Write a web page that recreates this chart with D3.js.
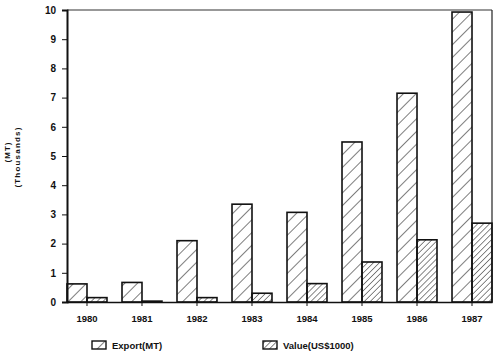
<!DOCTYPE html>
<html><head><meta charset="utf-8">
<script src="https://cdn.jsdelivr.net/npm/d3@7"></script>
<style>body{margin:0;background:#fff}svg{display:block}text{font-family:"Liberation Sans",Arial,sans-serif;font-weight:bold;fill:#111}</style>
</head><body>
<svg id="c" width="500" height="360"></svg>
<script>
const years = ["1980","1981","1982","1983","1984","1985","1986","1987"];
const exportMT = [0.62, 0.67, 2.1, 3.35, 3.07, 5.48, 7.15, 9.93];
const valueUSD = [0.15, 0.03, 0.15, 0.3, 0.63, 1.37, 2.13, 2.7];
const yTicks = [0,1,2,3,4,5,6,7,8,9,10];
const seriesNames = ["Export(MT)", "Value(US$1000)"];

const svg = d3.select("#c");
const L = 67, R = 492, T = 10, B = 302;
const x = d3.scaleBand().domain(years).range([L, R]).paddingInner(0.273).paddingOuter(0);
const xs = d3.scaleBand().domain([0,1]).range([0, x.bandwidth()]);
const y = d3.scaleLinear().domain([0,10]).range([B, T]);

const defs = svg.append("defs");
function hatch(id, gap, w) {
  const p = defs.append("pattern").attr("id", id).attr("patternUnits","userSpaceOnUse")
    .attr("width", gap).attr("height", gap).attr("patternTransform","rotate(45)");
  p.append("line").attr("x1",0).attr("y1",0).attr("x2",0).attr("y2",gap)
    .attr("stroke","#111").attr("stroke-width", w);
}
hatch("h1", 9, 1.1);
hatch("h2", 4.2, 1);

// frame
svg.append("line").attr("x1",L).attr("x2",R).attr("y1",T).attr("y2",T).attr("stroke","#333").attr("stroke-width",1.2);
svg.append("line").attr("x1",R).attr("x2",R).attr("y1",T).attr("y2",B).attr("stroke","#222").attr("stroke-width",1.2);

// bars
const g = svg.append("g");
years.forEach((yr, i) => {
  [exportMT[i], valueUSD[i]].forEach((v, k) => {
    g.append("rect")
      .attr("x", x(yr) + xs(k)).attr("width", xs.bandwidth())
      .attr("y", y(v)).attr("height", B - y(v))
      .attr("fill", k === 0 ? "url(#h1)" : "url(#h2)")
      .attr("stroke", "#111").attr("stroke-width", 1.6);
  });
});

// y axis
const ya = d3.axisLeft(y).tickValues(yTicks).tickSize(5).tickPadding(6);
const yg = svg.append("g").attr("transform", `translate(${L},0)`).call(ya);
yg.select(".domain").attr("stroke","#111").attr("stroke-width",2);
yg.selectAll(".tick line").attr("stroke","#111");
yg.selectAll("text").style("font-size","10px").style("font-weight","bold").attr("fill","#111");

// x axis
const xa = d3.axisBottom(x).tickSize(4).tickPadding(9).tickSizeOuter(0);
const xg = svg.append("g").attr("transform", `translate(0,${B})`).call(xa);
xg.select(".domain").attr("stroke","#111").attr("stroke-width",1.6);
xg.selectAll(".tick line").attr("stroke","#111");
xg.selectAll("text").style("font-size","9.5px").style("font-weight","bold").attr("fill","#111");

// y axis title
svg.append("text").attr("transform","translate(10,152) rotate(-90)").attr("text-anchor","middle")
  .style("font-size","8px").style("letter-spacing","1px").text("(MT)");
svg.append("text").attr("transform","translate(20,157) rotate(-90)").attr("text-anchor","middle")
  .style("font-size","8px").style("letter-spacing","1.2px").text("(Thousands)");

// legend
const leg = [{x:92, p:"url(#h1)"}, {x:263, p:"url(#h2)"}];
leg.forEach((l, i) => {
  svg.append("rect").attr("x", l.x).attr("y", 341).attr("width", 14).attr("height", 8)
    .attr("fill", l.p).attr("stroke","#111").attr("stroke-width",1.4);
  svg.append("text").attr("x", l.x + 20).attr("y", 348.5).style("font-size","9.5px").text(seriesNames[i]);
});
</script>
</body></html>
